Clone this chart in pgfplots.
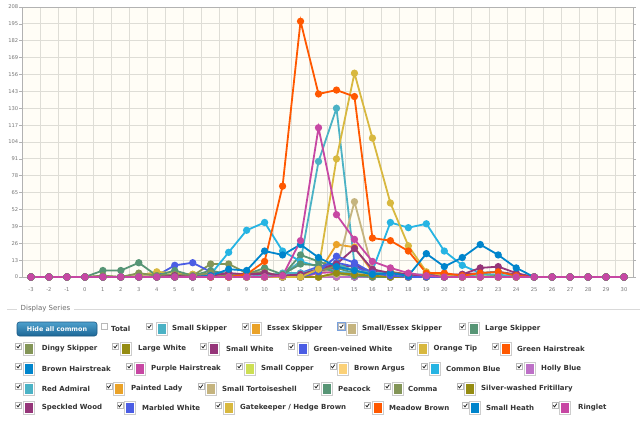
\documentclass[border=0pt]{standalone}
\usepackage{fontspec}
\setmainfont{DejaVu Sans}
\usepackage{pgfplots}
\pgfplotsset{compat=1.18}
\usepackage{pgfplotstable}
\definecolor{c0}{HTML}{4BB2C5}
\definecolor{c1}{HTML}{EAA228}
\definecolor{c2}{HTML}{C5B47F}
\definecolor{c3}{HTML}{579575}
\definecolor{c4}{HTML}{839557}
\definecolor{c5}{HTML}{958C12}
\definecolor{c6}{HTML}{953579}
\definecolor{c7}{HTML}{4B5DE4}
\definecolor{c8}{HTML}{D8B83F}
\definecolor{c9}{HTML}{FF5800}
\definecolor{c10}{HTML}{0085CC}
\definecolor{c11}{HTML}{C747A3}
\definecolor{c12}{HTML}{CDDF54}
\definecolor{c13}{HTML}{FBD178}
\definecolor{c14}{HTML}{26B4E3}
\definecolor{c15}{HTML}{BD70C7}
\definecolor{bgc}{HTML}{FFFDF6}
\definecolor{gridc}{HTML}{DEDDD6}
\definecolor{tickc}{HTML}{777777}
\definecolor{txtc}{HTML}{333333}
\pgfplotstableread{
w s1 s2 s3 s4 s5 s6 s7 s8 s9 s10 s11 s12 s13 s14 s15 s16 s17 s18 s19 s20 s21 s22 s23 s24 s25 s26 s27 s28
-3  0 0 0 0 0  0 0 0 0 0  0 0 0 0 0  0 0 0 0 0  0 0 0 0 0  0 0 0
-2  0 0 0 0 0  0 0 0 0 0  0 0 0 0 0  0 0 0 0 0  0 0 0 0 0  0 0 0
-1  0 0 0 0 0  0 0 0 0 0  0 0 0 0 0  0 0 0 0 0  0 0 0 0 0  0 0 0
0   0 0 0 0 0  0 0 0 0 0  0 0 0 0 0  0 0 0 0 0  0 0 0 0 0  0 0 0
1   0 0 0 0 0  0 0 0 0 0  0 0 0 0 0  0 0 0 1 5  1 0 0 0 0  0 0 0
2   0 0 0 0 0  0 0 0 0 0  0 0 0 0 0  0 0 0 0 5  0 0 0 0 0  0 0 0
3   0 0 0 0 0  2 0 0 1 0  0 0 0 0 0  0 0 0 2 11 3 0 0 0 0  0 0 0
4   0 0 0 0 0  2 0 1 4 0  0 0 0 0 0  0 0 0 1 1  1 0 0 0 0  0 0 0
5   0 0 0 0 0  1 1 9 3 0  0 0 1 0 0  0 0 0 0 5  2 0 1 0 0  0 0 0
6   0 0 0 0 1  2 0 11 2 1 0 0 1 1 0  0 0 0 0 1  1 0 0 0 0  0 0 0
7   0 0 0 0 10 2 0 4 1 1  0 0 0 0 2  2 0 0 1 5  3 0 1 0 0  0 1 0
8   0 0 0 0 10 2 2 2 0 0  0 0 0 0 19 3 0 0 0 2  1 0 3 0 0  0 6 0
9   0 0 0 0 3  2 1 1 0 0  0 0 0 0 36 1 0 0 0 2  3 0 2 0 0  2 5 0
10  0 0 0 0 1  1 3 0 0 0  0 0 0 0 42 0 1 0 0 7  4 0 3 0 0  12 20 0
11  2 0 0 1 0  0 1 0 0 0  0 0 0 0 20 0 3 0 0 2  0 0 1 0 0  70 17 1
12  12 0 0 17 0 2 2 3 0 0 0 0 0 0 12 0 3 0 0 10 0 0 2 0 0  197 25 28
13  89 3 4 12 0 5 5 8 0 0 0 3 0 0 8  0 6 0 0 9  5 0 6 4 6  141 15 115
14  130 25 6 7 0 9 7 11 0 0 0 4 2 0 4 0 10 3 2 3 8 3 10 16 91 144 8 48
15  10 23 58 3 0 8 9 8 0 0  0 2 1 1 3  0 5 2 3 1  5 2 22 11 157 139 5 29
16  3 4 6 1 0  3 4 2 0 0  0 0 0 0 5  0 3 1 1 0  2 1 6 3 107 30 2 12
17  1 1 2 0 0  4 3 1 0 0  0 0 0 1 42 2 3 0 0 0  3 0 3 1 57 28 3 7
18  0 0 0 0 0  2 2 0 0 0  0 0 0 0 38 2 2 0 0 0  1 0 2 0 24 20 1 3
19  0 0 0 0 0  1 1 0 0 0  0 0 0 0 41 0 2 0 0 0  1 0 1 0 4  3 18 1
20  0 0 0 0 0  2 1 0 0 0  0 0 0 0 20 0 1 0 0 0  0 0 2 0 1  3 8 0
21  0 0 0 0 0  1 2 0 0 0  0 0 1 0 9  0 1 0 0 0  0 0 2 0 0  1 15 0
22  0 0 0 0 0  2 3 0 0 0  1 0 1 0 3  0 2 0 0 0  0 0 7 0 0  3 25 0
23  0 0 0 0 0  1 4 0 0 0  0 0 0 0 4  0 2 0 0 0  0 0 8 0 0  4 17 0
24  0 0 0 0 0  0 2 0 0 0  0 0 0 0 1  0 0 0 0 0  0 0 3 0 0  1 7 0
25  0 0 0 0 0  0 0 0 0 0  0 0 0 0 0  0 0 0 0 0  0 0 0 0 0  0 0 0
26  0 0 0 0 0  0 0 0 0 0  0 0 0 0 0  0 0 0 0 0  0 0 0 0 0  0 0 0
27  0 0 0 0 0  0 0 0 0 0  0 0 0 0 0  0 0 0 0 0  0 0 0 0 0  0 0 0
28  0 0 0 0 0  0 0 0 0 0  0 0 0 0 0  0 0 0 0 0  0 0 0 0 0  0 0 0
29  0 0 0 0 0  0 0 0 0 0  0 0 0 0 0  0 0 0 0 0  0 0 0 0 0  0 0 0
30  0 0 0 0 0  0 0 0 0 0  0 0 0 0 0  0 0 0 0 0  0 0 0 0 0  0 0 0
}\data
\pgfplotsset{ser/.style={color=#1, line width=1.8bp, mark=*, mark size=2.7bp, mark options={solid, fill=#1}}}
% legend item: check centre x, swatch left x, text left x, row y, colour, text
\newcommand{\chk}[2]{%
  \draw[draw=gray!55, fill=white, line width=0.6bp] (#1-3,#2-3) rectangle (#1+3,#2+3);
  \draw[line width=0.8bp, black!85] (#1-1.8,#2-0.2) -- (#1-0.5,#2+1.4) -- (#1+1.8,#2-1.8);}
\newcommand{\legitem}[6]{%
  \chk{#1}{#4-2.5}
  \draw[draw=gray!40, fill=white, line width=0.5bp] (#2,#4-6.3) rectangle (#2+11,#4+6.3);
  \fill[#5] (#2+1.5,#4-4.8) rectangle (#2+9.5,#4+4.8);
  \node[anchor=west, inner sep=0pt, text=txtc, font=\fontsize{7bp}{8bp}\selectfont\bfseries] at (#3,#4) {#6};}
\begin{document}
\begin{tikzpicture}
\path[use as bounding box] (0,0) rectangle (640bp,-424bp);
\begin{axis}[
  at={(22bp,-277bp)}, anchor=south west,
  width=611bp, height=270bp, scale only axis,
  xmin=-3.5, xmax=30.5, ymin=0, ymax=208,
  clip=false,
  axis background/.style={fill=bgc},
  axis line style={draw=gray!60, line width=0.8bp},
  xtick={-3,...,30},
  xticklabels={-3,-2,-1,0,1,2,3,4,5,6,7,8,9,10,11,12,13,14,15,16,17,18,19,20,21,22,23,24,25,26,27,28,29,30},
  minor xtick={-3.5,-2.5,...,30.5},
  xminorgrids=true, xmajorgrids=false,
  ytick={0,13,...,208},
  yticklabels={0,13,26,39,52,65,78,91,104,117,130,143,156,169,182,195,208},
  ymajorgrids=true,
  major grid style={draw=gridc, line width=0.8bp},
  minor grid style={draw=gridc, line width=0.8bp},
  xtick style={draw=none},
  ytick style={draw=gray!60, line width=0.6bp},
  tick align=outside, major tick length=3bp,
  ticklabel style={font=\fontsize{5.2bp}{6bp}\selectfont, text=tickc},
  yticklabel style={inner sep=0.6bp},
  xticklabel style={yshift=-4bp},
]
\addplot[ser=c0] table[x=w,y=s1]{\data};
\addplot[ser=c1] table[x=w,y=s2]{\data};
\addplot[ser=c2] table[x=w,y=s3]{\data};
\addplot[ser=c3] table[x=w,y=s4]{\data};
\addplot[ser=c4] table[x=w,y=s5]{\data};
\addplot[ser=c5] table[x=w,y=s6]{\data};
\addplot[ser=c6] table[x=w,y=s7]{\data};
\addplot[ser=c7] table[x=w,y=s8]{\data};
\addplot[ser=c8] table[x=w,y=s9]{\data};
\addplot[ser=c9] table[x=w,y=s10]{\data};
\addplot[ser=c10] table[x=w,y=s11]{\data};
\addplot[ser=c11] table[x=w,y=s12]{\data};
\addplot[ser=c12] table[x=w,y=s13]{\data};
\addplot[ser=c13] table[x=w,y=s14]{\data};
\addplot[ser=c14] table[x=w,y=s15]{\data};
\addplot[ser=c15] table[x=w,y=s16]{\data};
\addplot[ser=c0] table[x=w,y=s17]{\data};
\addplot[ser=c1] table[x=w,y=s18]{\data};
\addplot[ser=c2] table[x=w,y=s19]{\data};
\addplot[ser=c3] table[x=w,y=s20]{\data};
\addplot[ser=c4] table[x=w,y=s21]{\data};
\addplot[ser=c5] table[x=w,y=s22]{\data};
\addplot[ser=c6] table[x=w,y=s23]{\data};
\addplot[ser=c7] table[x=w,y=s24]{\data};
\addplot[ser=c8] table[x=w,y=s25]{\data};
\addplot[ser=c9] table[x=w,y=s26]{\data};
\addplot[ser=c10] table[x=w,y=s27]{\data};
\addplot[ser=c11] table[x=w,y=s28]{\data};
\end{axis}
\begin{scope}[x=1bp, y=-1bp]
  % fieldset
  \draw[draw=gray!30, line width=0.7bp] (7,309) -- (17,309);
  \draw[draw=gray!30, line width=0.7bp] (74,309) -- (640,309);
  \node[anchor=west, inner sep=0pt, text=gray!85!black, font=\fontsize{7bp}{8bp}\selectfont] at (20.5,309) {Display Series};
  % button
  \draw[rounded corners=2.5bp, draw={rgb,255:red,28;green,90;blue,133}, top color={rgb,255:red,78;green,160;blue,205}, bottom color={rgb,255:red,28;green,103;blue,150}, line width=0.6bp] (17,322) rectangle (97,336);
  \node[text=white, inner sep=0pt, font=\fontsize{6.4bp}{7bp}\selectfont\bfseries] at (57,329) {Hide all common};
  % Total (unchecked)
  \draw[draw=gray!55, fill=white, line width=0.6bp] (101.5,323.5) rectangle (107.5,329.5);
  \node[anchor=west, inner sep=0pt, text=txtc, font=\fontsize{7bp}{8bp}\selectfont\bfseries] at (111,329) {Total};
  % row 1
  \legitem{149.5}{156}{172}{329}{c0}{Small Skipper}
  \legitem{245.5}{250}{267}{329}{c1}{Essex Skipper}
  \legitem{341.5}{346}{362}{329}{c2}{Small/Essex Skipper}
  \draw[draw={rgb,255:red,120;green,160;blue,220}, line width=0.8bp] (337.8,322.8) rectangle (345.2,330.2);
  \legitem{462.5}{468}{485}{329}{c3}{Large Skipper}
  % row 2
  \legitem{18.5}{23.5}{41.6}{349}{c4}{Dingy Skipper}
  \legitem{115.5}{120.5}{138}{349}{c5}{Large White}
  \legitem{203.5}{208.5}{226}{349}{c6}{Small White}
  \legitem{291.5}{297}{313.5}{349}{c7}{Green-veined White}
  \legitem{412.5}{417.5}{433.5}{349}{c8}{Orange Tip}
  \legitem{495.5}{500.5}{517}{349}{c9}{Green Hairstreak}
  % row 3
  \legitem{18.5}{23.5}{41.6}{369}{c10}{Brown Hairstreak}
  \legitem{129.5}{134.5}{151}{369}{c11}{Purple Hairstreak}
  \legitem{239.5}{244.5}{261}{369}{c12}{Small Copper}
  \legitem{333}{337.5}{354}{369}{c13}{Brown Argus}
  \legitem{424.5}{429.5}{446}{369}{c14}{Common Blue}
  \legitem{519.5}{524.5}{541}{369}{c15}{Holly Blue}
  % row 4
  \legitem{18.5}{23.5}{41.6}{389}{c0}{Red Admiral}
  \legitem{109}{113.5}{131}{389}{c1}{Painted Lady}
  \legitem{201}{205.5}{222}{389}{c2}{Small Tortoiseshell}
  \legitem{316.5}{321.5}{338}{389}{c3}{Peacock}
  \legitem{387.5}{392}{408}{389}{c4}{Comma}
  \legitem{460}{464.5}{481}{389}{c5}{Silver-washed Fritillary}
  % row 5
  \legitem{18.5}{23.5}{41.6}{408}{c6}{Speckled Wood}
  \legitem{120}{124.5}{142}{408}{c7}{Marbled White}
  \legitem{218.5}{223}{240}{408}{c8}{Gatekeeper / Hedge Brown}
  \legitem{367.5}{372}{389}{408}{c9}{Meadow Brown}
  \legitem{465.5}{469.5}{486}{408}{c10}{Small Heath}
  \legitem{555}{559.5}{578}{408}{c11}{Ringlet}
\end{scope}
\end{tikzpicture}
\end{document}
